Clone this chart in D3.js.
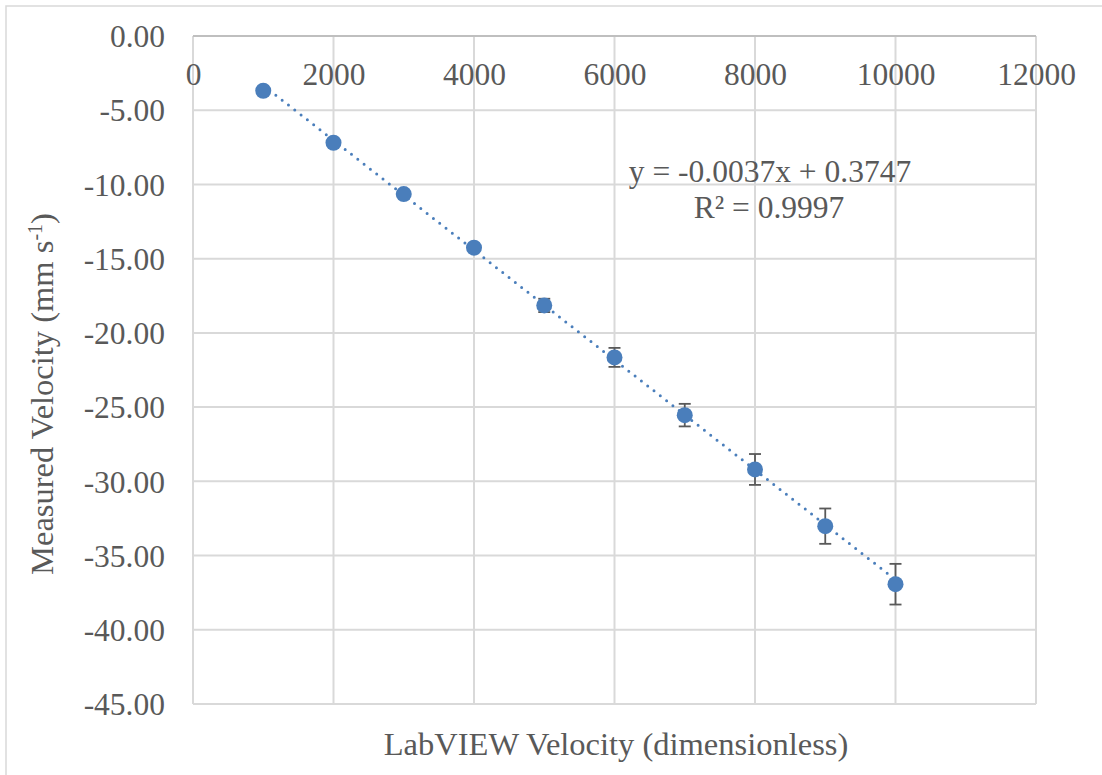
<!DOCTYPE html>
<html>
<head>
<meta charset="utf-8">
<script src="https://cdn.jsdelivr.net/npm/d3@7"></script>
<style>
  body { margin: 0; background: #fff; }
</style>
</head>
<body>
<svg id="chart" width="1102" height="775"></svg>
<script>
// data
const labviewVelocity = [1000, 2000, 3000, 4000, 5000, 6000, 7000, 8000, 9000, 10000]
const measuredVelocity = [-3.69, -7.19, -10.65, -14.26, -18.15, -21.65, -25.54, -29.2, -33.02, -36.93]
const errorSize = [0.0, 0.0, 0.0, 0.0, 0.45, 0.64, 0.76, 1.04, 1.19, 1.37]
const xTicks = [0, 2000, 4000, 6000, 8000, 10000, 12000]
const yTicks = [0, -5, -10, -15, -20, -25, -30, -35, -40, -45]
const trendSlope = -0.0037
const trendIntercept = 0.3747
const trendLabel = ["y = -0.0037x + 0.3747", "R² = 0.9997"]

const FONT = "'Liberation Serif', 'Times New Roman', Tinos, 'DejaVu Serif', serif"

const svg = d3.select("#chart")
const margin = {top: 36, right: 66, bottom: 71, left: 193}
const width = +svg.attr("width") - margin.left - margin.right
const height = +svg.attr("height") - margin.top - margin.bottom

// chart area border
svg.append("rect")
    .attr("x", 6).attr("y", 6)
    .attr("width", 1110).attr("height", 790)
    .attr("fill", "none")
    .attr("stroke", "#d9d9d9")
    .attr("stroke-width", 1.5)

const g = svg.append("g").attr("transform", "translate(" + margin.left + "," + margin.top + ")")

const x = d3.scaleLinear().domain([0, 12000]).range([0, width])
const y = d3.scaleLinear().domain([0, -45]).range([0, height])

// gridlines
g.append("g")
    .selectAll("line")
    .data(xTicks)
    .enter().append("line")
    .attr("x1", d => x(d)).attr("x2", d => x(d))
    .attr("y1", 0).attr("y2", height)
    .attr("stroke", "#d9d9d9")
    .attr("stroke-width", 2)

g.append("g")
    .selectAll("line")
    .data(yTicks)
    .enter().append("line")
    .attr("x1", 0).attr("x2", width)
    .attr("y1", d => y(d)).attr("y2", d => y(d))
    .attr("stroke", d => d === 0 ? "#bfbfbf" : "#d9d9d9")
    .attr("stroke-width", 2)

// x axis sits at y = 0 (top of plot)
const xAxis = g.append("g")
    .attr("transform", "translate(0," + y(0) + ")")
    .call(d3.axisBottom(x).tickValues(xTicks).tickSize(0).tickPadding(0).tickFormat(d3.format("d")))
xAxis.attr("font-family", null).attr("font-size", null)
xAxis.select(".domain").remove()
xAxis.selectAll("text")
    .attr("dy", null)
    .attr("y", 49)
    .style("font-family", FONT)
    .style("font-size", "31.5px")
    .style("fill", "#595959")

const yAxis = g.append("g")
    .call(d3.axisLeft(y).tickValues(yTicks).tickSize(0).tickPadding(28).tickFormat(d3.format(".2f")))
yAxis.attr("font-family", null).attr("font-size", null)
yAxis.select(".domain").remove()
yAxis.selectAll("text")
    .attr("dy", "0.34em")
    .style("font-family", FONT)
    .style("font-size", "31.5px")
    .style("fill", "#595959")
    .text(d => d3.format(".2f")(d).replace("−", "-"))

// trendline
const trend = labviewVelocity.map(v => ({xValue: v, yValue: trendSlope * v + trendIntercept}))
const line = d3.line()
    .x(d => x(d.xValue))
    .y(d => y(d.yValue))

g.append("path")
    .datum([trend[0], trend[trend.length - 1]])
    .attr("d", line)
    .attr("fill", "none")
    .attr("stroke", "#4a7ebb")
    .attr("stroke-width", 3)
    .attr("stroke-linecap", "round")
    .style("stroke-dasharray", "0, 8")

const points = labviewVelocity.map((v, i) => ({xValue: v, yValue: measuredVelocity[i], err: errorSize[i]}))

// error bars
const errs = g.append("g").selectAll("g")
    .data(points.filter(d => d.err > 0))
    .enter().append("g")
    .attr("stroke", "#595959")
    .attr("stroke-width", 1.8)

errs.append("line")
    .attr("x1", d => x(d.xValue)).attr("x2", d => x(d.xValue))
    .attr("y1", d => y(d.yValue + d.err)).attr("y2", d => y(d.yValue - d.err))
errs.append("line")
    .attr("x1", d => x(d.xValue) - 6).attr("x2", d => x(d.xValue) + 6)
    .attr("y1", d => y(d.yValue + d.err)).attr("y2", d => y(d.yValue + d.err))
errs.append("line")
    .attr("x1", d => x(d.xValue) - 6).attr("x2", d => x(d.xValue) + 6)
    .attr("y1", d => y(d.yValue - d.err)).attr("y2", d => y(d.yValue - d.err))

// markers
g.append("g").selectAll("circle")
    .data(points)
    .enter().append("circle")
    .attr("cx", d => x(d.xValue))
    .attr("cy", d => y(d.yValue))
    .attr("r", 8)
    .attr("fill", "#4a7ebb")

function label(sel, size) {
    return sel.style("font-family", FONT).style("font-size", size + "px").style("fill", "#595959")
}

// trendline label
svg.append("text")
    .attr("x", 770).attr("y", 182)
    .attr("text-anchor", "middle")
    .call(label, 31.5)
    .text(trendLabel[0])
svg.append("text")
    .attr("x", 769).attr("y", 218)
    .attr("text-anchor", "middle")
    .call(label, 31.5)
    .text(trendLabel[1])

// axis titles
svg.append("text")
    .attr("x", 616).attr("y", 755)
    .attr("text-anchor", "middle")
    .call(label, 32.5)
    .text("LabVIEW Velocity (dimensionless)")

const yTitle = svg.append("text")
    .attr("transform", "translate(53,394) rotate(-90)")
    .attr("text-anchor", "middle")
    .call(label, 32.5)
yTitle.append("tspan").text("Measured Velocity (mm s")
yTitle.append("tspan").attr("baseline-shift", "super").style("font-size", "20px").text("-1")
yTitle.append("tspan").text(")")
</script>
</body>
</html>
